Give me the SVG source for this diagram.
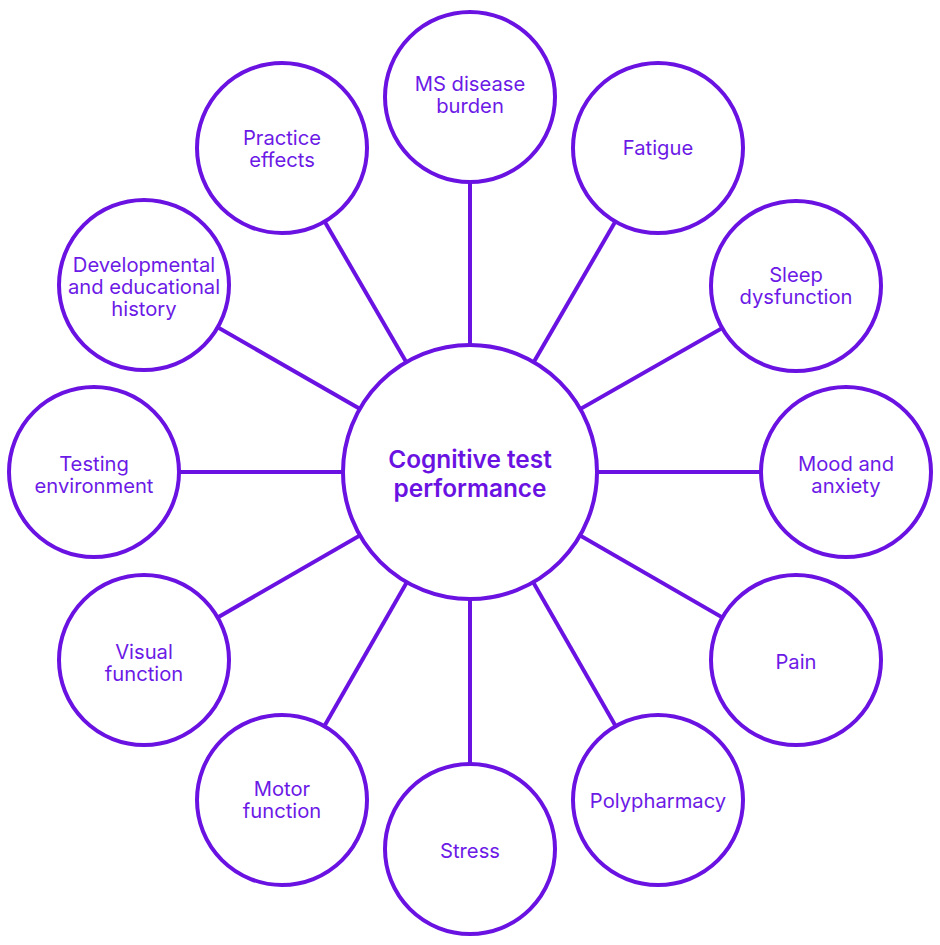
<svg xmlns="http://www.w3.org/2000/svg" width="940" height="945" viewBox="0 0 940 945">
<style>
.c{fill:#fff;stroke:#6a12e2;stroke-width:4}
.l{stroke:#6a12e2;stroke-width:4}
.t{font-family:Inter,"Noto Sans",sans-serif;font-size:20.2px;fill:#6c1ae6;text-anchor:middle}
.m{font-family:Inter,"Noto Sans",sans-serif;font-size:24.4px;font-weight:600;fill:#6a12e2;text-anchor:middle}
</style>
<rect width="940" height="945" fill="#fff"/>
<g id="connectors">
<line class="l" x1="470" y1="472" x2="470" y2="97"/>
<line class="l" x1="470" y1="472" x2="658" y2="148"/>
<line class="l" x1="470" y1="472" x2="796" y2="286"/>
<line class="l" x1="470" y1="472" x2="846" y2="472"/>
<line class="l" x1="470" y1="472" x2="796" y2="660"/>
<line class="l" x1="470" y1="472" x2="658" y2="800"/>
<line class="l" x1="470" y1="472" x2="470" y2="849"/>
<line class="l" x1="470" y1="472" x2="282" y2="800"/>
<line class="l" x1="470" y1="472" x2="144" y2="660"/>
<line class="l" x1="470" y1="472" x2="94" y2="472"/>
<line class="l" x1="470" y1="472" x2="144" y2="285"/>
<line class="l" x1="470" y1="472" x2="282" y2="148"/>
</g>
<g id="center"><circle class="c" cx="470" cy="472" r="127"/>
<text class="m" x="470" y="468">Cognitive test</text><text class="m" x="470" y="497">performance</text></g>
<g id="ms"><circle class="c" cx="470" cy="97" r="85"/><text class="t" x="470" y="91">MS disease</text><text class="t" x="470" y="113">burden</text></g>
<g id="fatigue"><circle class="c" cx="658" cy="148" r="85"/><text class="t" x="658" y="155">Fatigue</text></g>
<g id="sleep"><circle class="c" cx="796" cy="286" r="85"/><text class="t" x="796" y="282">Sleep</text><text class="t" x="796" y="304">dysfunction</text></g>
<g id="mood"><circle class="c" cx="846" cy="472" r="85"/><text class="t" x="846" y="471">Mood and</text><text class="t" x="846" y="493">anxiety</text></g>
<g id="pain"><circle class="c" cx="796" cy="660" r="85"/><text class="t" x="796" y="669">Pain</text></g>
<g id="poly"><circle class="c" cx="658" cy="800" r="85"/><text class="t" x="658" y="808">Polypharmacy</text></g>
<g id="stress"><circle class="c" cx="470" cy="849" r="85"/><text class="t" x="470" y="858">Stress</text></g>
<g id="motor"><circle class="c" cx="282" cy="800" r="85"/><text class="t" x="282" y="796">Motor</text><text class="t" x="282" y="818">function</text></g>
<g id="visual"><circle class="c" cx="144" cy="660" r="85"/><text class="t" x="144" y="659">Visual</text><text class="t" x="144" y="681">function</text></g>
<g id="testing"><circle class="c" cx="94" cy="472" r="85"/><text class="t" x="94" y="471">Testing</text><text class="t" x="94" y="493">environment</text></g>
<g id="dev"><circle class="c" cx="144" cy="285" r="85"/><text class="t" x="144" y="272">Developmental</text><text class="t" x="144" y="294">and educational</text><text class="t" x="144" y="316">history</text></g>
<g id="practice"><circle class="c" cx="282" cy="148" r="85"/><text class="t" x="282" y="145">Practice</text><text class="t" x="282" y="167">effects</text></g>
</svg>
